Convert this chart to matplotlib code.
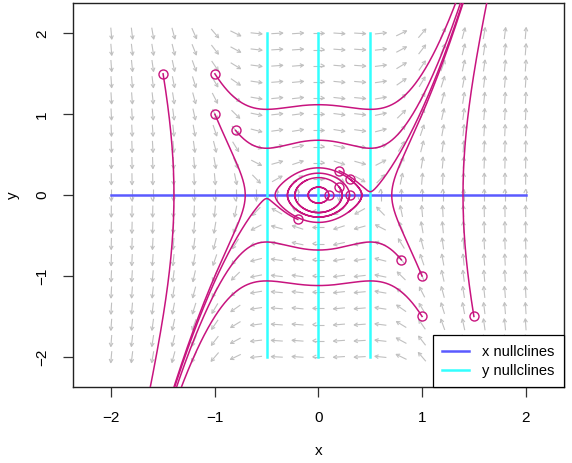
import numpy as np
import matplotlib
matplotlib.use('Agg')
import matplotlib.pyplot as plt
from matplotlib.collections import LineCollection
from matplotlib.lines import Line2D

plt.rcParams['font.family'] = ['Liberation Sans', 'DejaVu Sans']

# ---- data ----
# model system shown in the phase portrait: dx/dt = y, dy/dt = -x + 4 x^3
def deriv(x, y):
    return y, -x + 4.0 * x ** 3

field_xlim = [-2.0, 2.0]
field_ylim = [-2.0, 2.0]
field_points = 21

x_nullcline_y = [0.0]                  # dx/dt = 0
y_nullcline_x = [-0.5, 0.0, 0.5]       # dy/dt = 0

start_x = [-1.5, -1.0, -1.0, -0.8, 0.2, 0.3, 0.2, 0.1, 0.3, -0.2, 0.8, 1.0, 1.0, 1.5]
start_y = [1.5, 1.5, 1.0, 0.8, 0.3, 0.2, 0.1, 0.0, 0.0, -0.3, -0.8, -1.0, -1.5, -1.5]

tick_values = [-2, -1, 0, 1, 2]
legend_labels = ["x nullclines", "y nullclines"]

# ---- styles ----
arrow_col = '#c0c0c0'
traj_col = '#c8147f'
xnull_col = '#5a5aff'
ynull_col = '#33ffff'

fig = plt.figure(figsize=(5.72, 4.63), dpi=100)
ax = fig.add_axes([0.127, 0.1635, 0.8596, 0.8294])
ax.set_xlim(-2.373, 2.373)
ax.set_ylim(-2.376, 2.372)

# ---- flow field: equal-length arrows centred on mesh points ----
gx = np.linspace(field_xlim[0], field_xlim[1], field_points)
gy = np.linspace(field_ylim[0], field_ylim[1], field_points)
X, Y = np.meshgrid(gx, gy)
U, V = deriv(X, Y)
mag = np.hypot(U, V)
mag[mag == 0] = 1.0
U = U / mag
V = V / mag

L = 11.5   # px
HL = 4.0   # px
ang = np.deg2rad(28)
trans = ax.transData
inv = trans.inverted()
segs = []
for x, y, u, v in zip(X.ravel(), Y.ravel(), U.ravel(), V.ravel()):
    c = trans.transform((x, y))
    p = trans.transform((x + u * 0.01, y + v * 0.01)) - c
    n = np.hypot(*p)
    if n == 0:
        continue
    d = p / n
    s = c - d * L / 2
    e = c + d * L / 2
    ca, sa = np.cos(ang), np.sin(ang)
    r1 = np.array([d[0] * ca - d[1] * sa, d[0] * sa + d[1] * ca])
    r2 = np.array([d[0] * ca + d[1] * sa, -d[0] * sa + d[1] * ca])
    h1 = e - r1 * HL
    h2 = e - r2 * HL
    segs.append(inv.transform([s, e]))
    segs.append(inv.transform([h1, e, h2]))
ax.add_collection(LineCollection(segs, colors=arrow_col, linewidths=0.8, zorder=1))

# ---- nullclines ----
for yv in x_nullcline_y:
    ax.plot(field_xlim, [yv, yv], color=xnull_col, lw=1.8, zorder=2)
for xv in y_nullcline_x:
    ax.plot([xv, xv], field_ylim, color=ynull_col, lw=1.8, zorder=3)

# ---- trajectories (RK4) ----
def integrate(x0, y0, dt=0.002, tmax=12.0):
    xs, ys = [x0], [y0]
    x, y = x0, y0
    for _ in range(int(tmax / dt)):
        k1 = deriv(x, y)
        k2 = deriv(x + dt / 2 * k1[0], y + dt / 2 * k1[1])
        k3 = deriv(x + dt / 2 * k2[0], y + dt / 2 * k2[1])
        k4 = deriv(x + dt * k3[0], y + dt * k3[1])
        x = x + dt / 6 * (k1[0] + 2 * k2[0] + 2 * k3[0] + k4[0])
        y = y + dt / 6 * (k1[1] + 2 * k2[1] + 2 * k3[1] + k4[1])
        xs.append(x)
        ys.append(y)
        if abs(x) > 4 or abs(y) > 4:
            break
    return xs, ys

for x0, y0 in zip(start_x, start_y):
    xs, ys = integrate(x0, y0)
    ax.plot(xs, ys, color=traj_col, lw=1.1, zorder=4)
ax.plot(start_x, start_y, linestyle='none', marker='o', ms=6.5, mfc='none',
        mec=traj_col, mew=1.0, zorder=5)

# ---- axes ----
ax.set_xticks(tick_values)
ax.set_yticks(tick_values)
ax.set_xticklabels([str(t).replace('-', '\u2212') for t in tick_values])
ax.set_yticklabels([str(t).replace('-', '\u2212') for t in tick_values],
                   rotation=90, va='center')
ax.tick_params(direction='out', length=7, width=0.9, labelsize=11, pad=10,
               color='#333333')
for s in ax.spines.values():
    s.set_linewidth(1.0)
    s.set_color('#222222')

fig.text(318.5 / 572, 1 - 451 / 463, 'x', ha='center', va='center', fontsize=11)
fig.text(13 / 572, 1 - 195 / 463, 'y', ha='center', va='center', fontsize=11,
         rotation=90)

handles = [Line2D([], [], color=xnull_col, lw=1.8),
           Line2D([], [], color=ynull_col, lw=1.8)]
leg = ax.legend(handles, legend_labels, loc='lower right', bbox_to_anchor=(1, 0),
                borderaxespad=0, fontsize=10.5, frameon=True, fancybox=False,
                edgecolor='black', framealpha=1, handlelength=1.85,
                handletextpad=0.9, borderpad=0.65, labelspacing=0.35)
leg.get_frame().set_linewidth(0.9)
leg.set_zorder(10)

fig.savefig('out.png', dpi=100)
